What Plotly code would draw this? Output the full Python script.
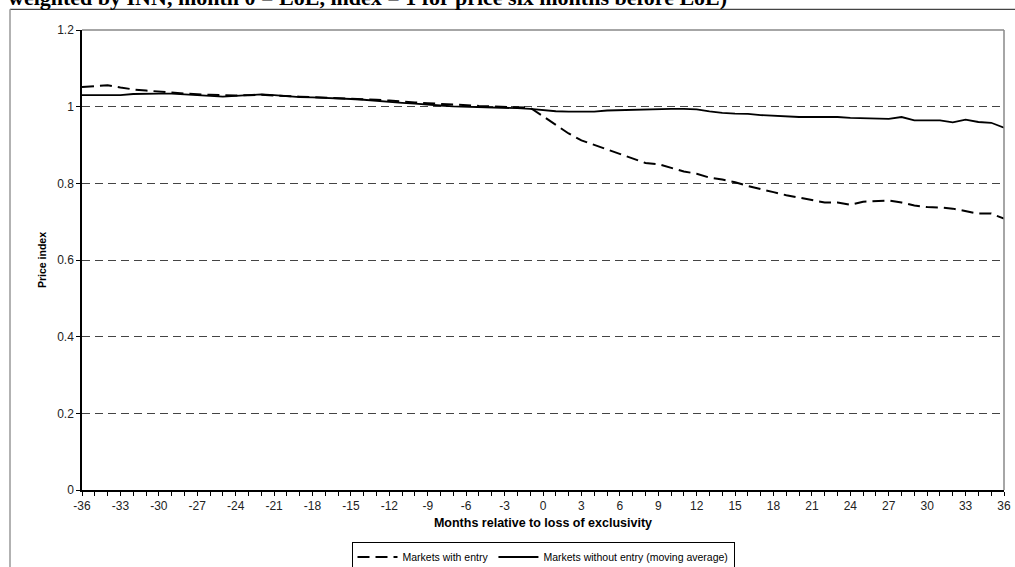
import plotly.graph_objects as go

months = list(range(-36, 37))

with_entry = [
    1.051, 1.054, 1.056, 1.050, 1.045, 1.042, 1.040, 1.037, 1.034, 1.032,
    1.031, 1.030, 1.029, 1.030, 1.031, 1.029, 1.027, 1.026, 1.025, 1.024,
    1.023, 1.021, 1.019, 1.018, 1.016, 1.013, 1.011, 1.009, 1.007, 1.005,
    1.003, 1.002, 1.001, 1.000, 0.999, 0.997,
    0.975, 0.952, 0.930, 0.912, 0.900, 0.889, 0.877, 0.863, 0.853, 0.850,
    0.840, 0.831, 0.825, 0.815, 0.810, 0.803, 0.793, 0.784, 0.777, 0.769,
    0.762, 0.755, 0.750, 0.750, 0.744, 0.752, 0.754, 0.755, 0.750, 0.742,
    0.738, 0.737, 0.734, 0.728, 0.721, 0.721, 0.708,
]

without_entry = [
    1.030, 1.030, 1.030, 1.030, 1.033, 1.034, 1.034, 1.034, 1.032, 1.030,
    1.027, 1.026, 1.028, 1.030, 1.032, 1.030, 1.027, 1.025, 1.024, 1.023,
    1.022, 1.020, 1.018, 1.015, 1.013, 1.010, 1.008, 1.005, 1.003, 1.001,
    1.000, 0.999, 0.998, 0.998, 0.996, 0.994,
    0.991, 0.988, 0.987, 0.987, 0.987, 0.990, 0.991, 0.991, 0.993, 0.993,
    0.994, 0.994, 0.993, 0.988, 0.984, 0.982, 0.981, 0.978, 0.976, 0.974,
    0.973, 0.973, 0.973, 0.973, 0.971, 0.970, 0.969, 0.968, 0.973, 0.964,
    0.964, 0.964, 0.959, 0.966, 0.960, 0.958, 0.945,
]

x_tick_vals = months
x_tick_text = [str(m) if m % 3 == 0 else "" for m in months]
y_tick_vals = [0, 0.2, 0.4, 0.6, 0.8, 1.0, 1.2]
y_tick_text = ["0", "0.2", "0.4", "0.6", "0.8", "1", "1.2"]

series_names = ["Markets with entry", "Markets without entry (moving average)"]
title_text = "weighted by INN, month 0 = LoE, index = 1 for price six months before LoE)"

fig = go.Figure()
fig.add_trace(go.Scatter(
    x=months, y=with_entry, mode="lines", name=series_names[0],
    line=dict(color="black", width=2, dash="12px,6px"),
))
fig.add_trace(go.Scatter(
    x=months, y=without_entry, mode="lines", name=series_names[1],
    line=dict(color="black", width=1.8),
))

W, H = 1015, 567
L, R, T, B = 82, 11, 30, 77
pw, ph = W - L - R, H - T - B

def px_x(p):
    return (p - L) / pw

def px_y(p):
    return (H - B - p) / ph

fig.update_layout(
    width=W, height=H,
    margin=dict(l=L, r=R, t=T, b=B, autoexpand=False),
    paper_bgcolor="white", plot_bgcolor="white",
    font=dict(family="Arial, Liberation Sans, sans-serif", color="#222", size=12),
    showlegend=True,
    legend=dict(
        orientation="h", x=px_x(543), xanchor="center", y=px_y(557), yanchor="middle",
        bordercolor="black", borderwidth=1, bgcolor="white",
        font=dict(size=10.5, color="black"),
        tracegroupgap=0, itemwidth=40,
    ),
    xaxis=dict(
        range=[-36, 36], tickmode="array", tickvals=x_tick_vals, ticktext=x_tick_text,
        ticks="outside", ticklen=4, tickcolor="black", tickwidth=1,
        showline=True, linecolor="black", linewidth=1.5, showgrid=False, zeroline=False,
        tickfont=dict(size=12, color="#222"),
        title=dict(text="<b>Months relative to loss of exclusivity</b>",
                   font=dict(size=12.5, color="black"), standoff=6),
    ),
    yaxis=dict(
        range=[0, 1.2], tickmode="array", tickvals=y_tick_vals, ticktext=y_tick_text,
        ticks="outside", ticklen=4, tickcolor="black", tickwidth=1,
        showline=True, linecolor="black", linewidth=1.5, zeroline=False,
        showgrid=True, gridcolor="#444", gridwidth=1, griddash="8px,5px",
        tickfont=dict(size=12, color="#222"),
        title=dict(text="<b>Price index</b>", font=dict(size=10.5, color="black"), standoff=8),
    ),
    shapes=[
        dict(type="line", xref="paper", yref="paper", x0=0, x1=1, y0=1, y1=1,
             line=dict(color="#888", width=1.5), layer="above"),
        dict(type="line", xref="paper", yref="paper", x0=1, x1=1, y0=0, y1=1,
             line=dict(color="#888", width=1.5), layer="above"),
        dict(type="line", xref="paper", yref="paper", x0=px_x(10), x1=px_x(1015),
             y0=px_y(9.3), y1=px_y(9.3), line=dict(color="#444", width=1.2)),
        dict(type="line", xref="paper", yref="paper", x0=px_x(10), x1=px_x(10),
             y0=px_y(9.3), y1=px_y(567), line=dict(color="#999", width=1.5)),
    ],
    annotations=[
        dict(text="<b>" + title_text + "</b>", xref="paper", yref="paper",
             x=px_x(7), y=px_y(11), xanchor="left", yanchor="bottom",
             showarrow=False, borderpad=0,
             font=dict(family="Liberation Serif, Times New Roman, serif", size=22, color="black")),
    ],
)

fig.write_html(
    "out.html",
    config={"displayModeBar": False},
    post_script="document.body.style.margin='0';document.body.style.overflow='hidden';",
)
